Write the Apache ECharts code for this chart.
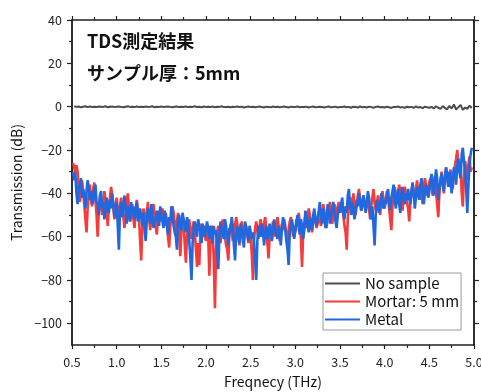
<!DOCTYPE html>
<html>
<head>
<meta charset="utf-8">
<script src="https://cdn.jsdelivr.net/npm/echarts@6/dist/echarts.min.js"></script>
<style>
  html, body { margin: 0; padding: 0; background: #fff; }
  #main { width: 481px; height: 392px; }
</style>
</head>
<body>
<div id="main"></div>
<script>
// frequency grids (THz)
const refStart = 0.525, refStep = 0.025;      // no sample
const smpStart = 0.5125, smpStep = 0.0125;    // mortar / metal

// No sample (dB)
const noSample = [
  0.2, -0.1, 0.1, -0.3, 0.0, 0.2, -0.2, 0.1, -0.1, 0.0,
  -0.2, 0.1, 0.0, -0.1, 0.2, -0.3, 0.0, 0.1, -0.2, 0.0,
  0.1, -0.1, -0.3, 0.0, 0.2, -0.1, 0.0, -0.2, 0.1, -0.1,
  0.0, -0.2, 0.1, -0.1, 0.0, 0.2, -0.3, 0.0, -0.1, 0.1,
  -0.2, 0.0, 0.1, -0.1, -0.3, 0.0, 0.1, -0.2, 0.0, -0.1,
  0.1, -0.2, 0.0, -0.1, 0.2, -0.2, 0.0, -0.3, 0.1, -0.1,
  0.0, -0.2, 0.1, -0.3, 0.0, -0.1, 0.2, -0.2, -0.1, 0.0,
  -0.3, 0.0, -0.1, 0.1, -0.2, 0.0, -0.4, -0.1, 0.1, -0.2,
  0.0, -0.3, -0.1, 0.1, -0.2, -0.4, 0.0, -0.1, -0.3, 0.1,
  -0.2, 0.0, -0.3, -0.1, 0.1, -0.2, -0.4, 0.0, -0.2, -0.1,
  0.1, -0.3, -0.1, -0.2, 0.0, -0.4, -0.1, 0.1, -0.3, -0.2,
  0.0, -0.2, -0.4, -0.1, 0.1, -0.3, -0.2, 0.0, -0.4, -0.1,
  -0.2, 0.1, -0.3, -0.1, -0.5, 0.0, -0.2, -0.4, 0.1, -0.3,
  -0.1, -0.4, 0.0, -0.2, -0.5, -0.1, 0.1, -0.3, -0.2, -0.4,
  0.0, -0.3, -0.6, -0.1, -0.2, 0.1, -0.4, -0.2, -0.5, 0.0,
  -0.3, -0.1, -0.6, 0.1, -0.4, -0.2, -0.7, 0.0, -0.3, -0.5,
  -0.1, -0.8, 0.2, -0.5, -1.0, 0.3, -0.6, -1.2, 0.4, -0.9,
  1.0, -1.3, -0.2, 0.8, -1.5, -0.4, -1.0, 0.5, -0.6
];

// Mortar: 5 mm (dB)
const mortar = [
  -26, -28, -31, -27, -30, -38, -44, -40, -34, -39,
  -45, -52, -58, -47, -40, -36, -43, -46, -38, -35,
  -43, -50, -60, -48, -42, -45, -50, -44, -39, -43,
  -48, -55, -47, -42, -37, -41, -47, -52, -45, -42,
  -48, -53, -46, -42, -47, -51, -56, -49, -44, -40,
  -47, -53, -50, -45, -52, -56, -48, -43, -47, -51,
  -62, -71, -55, -47, -50, -54, -49, -44, -51, -57,
  -52, -47, -45, -50, -55, -59, -51, -48, -53, -50,
  -47, -51, -55, -49, -53, -60, -65, -56, -50, -46,
  -49, -54, -58, -53, -49, -60, -69, -57, -51, -54,
  -64, -72, -60, -55, -52, -57, -61, -56, -53, -58,
  -66, -74, -63, -73, -57, -54, -58, -55, -60, -62,
  -56, -60, -78, -62, -55, -58, -72, -93, -66, -58,
  -55, -59, -63, -57, -52, -56, -60, -64, -66, -71,
  -58, -54, -57, -62, -59, -55, -51, -54, -60, -64,
  -57, -53, -56, -61, -58, -55, -59, -63, -57, -60,
  -68, -80, -62, -56, -53, -57, -61, -55, -52, -58,
  -60, -54, -51, -56, -63, -70, -60, -55, -57, -53,
  -56, -60, -54, -51, -55, -62, -58, -54, -57, -52,
  -55, -59, -63, -57, -53, -51, -56, -60, -55, -58,
  -52, -55, -49, -53, -61, -74, -59, -54, -50, -56,
  -51, -47, -50, -55, -58, -53, -49, -52, -56, -54,
  -49, -52, -55, -50, -45, -48, -53, -56, -50, -47,
  -44, -49, -54, -51, -45, -48, -52, -46, -44, -49,
  -47, -44, -50, -55, -58, -66, -51, -45, -42, -47,
  -44, -40, -46, -50, -45, -41, -38, -43, -48, -45,
  -41, -44, -48, -45, -41, -47, -52, -46, -42, -38,
  -44, -48, -45, -41, -46, -50, -43, -39, -43, -47,
  -43, -39, -42, -47, -52, -57, -46, -40, -37, -42,
  -45, -40, -36, -39, -44, -48, -42, -37, -40, -44,
  -47, -53, -44, -39, -36, -41, -44, -38, -34, -39,
  -43, -37, -40, -45, -38, -33, -36, -41, -38, -35,
  -33, -37, -41, -36, -32, -39, -45, -51, -40, -34,
  -30, -35, -40, -33, -28, -32, -37, -34, -29, -35,
  -38, -31, -27, -24, -20, -26, -30, -28, -40, -46,
  -32, -25, -29, -34, -27, -23, -30, -28
];

// Metal (dB)
const metal = [
  -30, -34, -31, -40, -45, -37, -36, -33, -42, -38,
  -41, -47, -39, -34, -37, -43, -39, -45, -44, -38,
  -36, -44, -45, -50, -41, -39, -47, -44, -52, -48,
  -42, -46, -49, -43, -47, -40, -45, -50, -51, -44,
  -55, -66, -48, -44, -51, -45, -41, -48, -54, -46,
  -49, -53, -44, -50, -46, -52, -49, -44, -53, -50,
  -47, -51, -55, -49, -57, -62, -52, -47, -50, -54,
  -45, -49, -56, -51, -53, -48, -52, -55, -46, -50,
  -53, -56, -48, -51, -55, -59, -51, -53, -46, -49,
  -55, -58, -60, -66, -52, -50, -55, -57, -49, -52,
  -55, -58, -51, -54, -62, -70, -80, -63, -56, -53,
  -57, -60, -52, -55, -58, -63, -54, -57, -60, -56,
  -53, -57, -61, -55, -58, -63, -55, -59, -57, -66,
  -75, -60, -53, -56, -59, -61, -52, -55, -60, -64,
  -56, -58, -51, -55, -64, -71, -59, -55, -60, -63,
  -54, -57, -62, -65, -53, -56, -59, -62, -55, -58,
  -61, -58, -63, -70, -80, -62, -55, -58, -60, -54,
  -57, -64, -58, -55, -61, -59, -54, -57, -62, -58,
  -52, -56, -59, -61, -55, -58, -64, -56, -51, -54,
  -57, -62, -66, -73, -58, -55, -52, -56, -61, -57,
  -53, -50, -56, -59, -52, -55, -61, -57, -48, -51,
  -55, -58, -51, -54, -57, -50, -47, -53, -55, -51,
  -48, -44, -50, -54, -47, -51, -56, -52, -45, -49,
  -54, -50, -47, -44, -49, -53, -56, -50, -46, -49,
  -45, -42, -49, -52, -46, -49, -41, -38, -46, -50,
  -44, -47, -52, -48, -43, -46, -40, -43, -48, -46,
  -41, -45, -49, -44, -39, -42, -48, -52, -46, -55,
  -64, -50, -43, -46, -49, -45, -40, -44, -47, -43,
  -45, -41, -38, -44, -48, -42, -39, -36, -43, -47,
  -41, -38, -45, -49, -40, -37, -42, -45, -40, -43,
  -38, -42, -45, -39, -35, -40, -47, -42, -37, -40,
  -43, -36, -33, -39, -45, -40, -36, -38, -42, -39,
  -35, -31, -36, -41, -34, -29, -33, -43, -38, -34,
  -31, -36, -39, -32, -28, -33, -37, -30, -35, -40,
  -33, -28, -31, -36, -27, -24, -30, -33, -22, -19,
  -25, -29, -38, -49, -36, -26, -22, -19
];

const yMajor = [-100, -80, -60, -40, -20, 0, 20, 40];
const yMinor = [-90, -70, -50, -30, -10, 10, 30];

const pairs = (vals, start, step) => vals.map((v, i) => [+(start + step * i).toFixed(4), v]);

const font = '"Noto Sans CJK JP", "Noto Sans", sans-serif';
const axisCol = '#222';

const chart = echarts.init(document.getElementById('main'));

const xBase = {
  type: 'value', min: 0.5, max: 5.0, interval: 0.5,
  axisLine: { show: true, onZero: false, lineStyle: { color: axisCol, width: 1.5 } },
  axisTick: { show: true, inside: false, length: 4, lineStyle: { color: axisCol, width: 1.2 } },
  minorTick: { show: true, splitNumber: 2, length: 3, lineStyle: { color: axisCol, width: 1.2 } },
  splitLine: { show: false }
};

const yBase = {
  type: 'value', min: -110, max: 40,
  axisLine: { show: true, onZero: false, lineStyle: { color: axisCol, width: 1.5 } },
  splitLine: { show: false }
};

chart.setOption({
  animation: false,
  textStyle: { fontFamily: font },
  grid: { left: 72, right: 7, top: 20, bottom: 47, outerBoundsMode: 'none', containLabel: false },
  legend: {
    orient: 'vertical',
    left: 323, top: 273,
    padding: [3, 2, 3, 2],
    icon: 'rect',
    itemWidth: 35, itemHeight: 2, itemGap: 3,
    borderColor: '#999', borderWidth: 1, borderRadius: 0,
    backgroundColor: '#fff',
    textStyle: { fontSize: 15, color: '#111', fontFamily: font },
    data: ['No sample', 'Mortar: 5 mm', 'Metal']
  },
  graphic: [
    { type: 'text', left: 87, top: 32,
      style: { text: 'TDS測定結果', font: 'bold 18px ' + font, fill: '#111' } },
    { type: 'text', left: 87, top: 64,
      style: { text: 'サンプル厚：5mm', font: 'bold 18px ' + font, fill: '#111' } }
  ],
  xAxis: [
    Object.assign({}, xBase, {
      position: 'bottom',
      name: 'Freqnecy (THz)', nameLocation: 'middle', nameGap: 30,
      nameTextStyle: { fontSize: 14, color: '#111', fontFamily: font },
      axisLabel: { fontSize: 12.5, color: '#222', margin: 11,
        formatter: v => v.toFixed(1) }
    }),
    Object.assign({}, xBase, { position: 'top', axisLabel: { show: false } })
  ],
  yAxis: [
    Object.assign({}, yBase, {
      position: 'left',
      name: 'Transmission (dB)', nameLocation: 'middle', nameGap: 47,
      nameTextStyle: { fontSize: 14, color: '#111', fontFamily: font },
      axisTick: { show: true, length: 5, customValues: yMajor, lineStyle: { color: axisCol, width: 1.2 } },
      axisLabel: { fontSize: 12.5, color: '#222', margin: 10, customValues: yMajor,
        formatter: v => (v < 0 ? '\u2212' + Math.abs(v) : '' + v) }
    }),
    Object.assign({}, yBase, {
      position: 'left',
      axisTick: { show: true, length: 3, customValues: yMinor, lineStyle: { color: axisCol, width: 1.2 } },
      axisLabel: { show: false }
    }),
    Object.assign({}, yBase, {
      position: 'right',
      axisTick: { show: true, length: 5, customValues: yMajor, lineStyle: { color: axisCol, width: 1.2 } },
      axisLabel: { show: false }
    }),
    Object.assign({}, yBase, {
      position: 'right',
      axisTick: { show: true, length: 3, customValues: yMinor, lineStyle: { color: axisCol, width: 1.2 } },
      axisLabel: { show: false }
    })
  ],
  series: [
    { name: 'No sample', type: 'line', data: pairs(noSample, refStart, refStep), symbol: 'none',
      lineStyle: { color: '#4d4d4d', width: 2 }, itemStyle: { color: '#4d4d4d' } },
    { name: 'Mortar: 5 mm', type: 'line', data: pairs(mortar, smpStart, smpStep), symbol: 'none',
      lineStyle: { color: '#f53b3b', width: 2.6 }, itemStyle: { color: '#f53b3b' } },
    { name: 'Metal', type: 'line', data: pairs(metal, smpStart, smpStep), symbol: 'none',
      lineStyle: { color: '#1f68e0', width: 2.6 }, itemStyle: { color: '#1f68e0' } }
  ]
});
</script>
</body>
</html>
